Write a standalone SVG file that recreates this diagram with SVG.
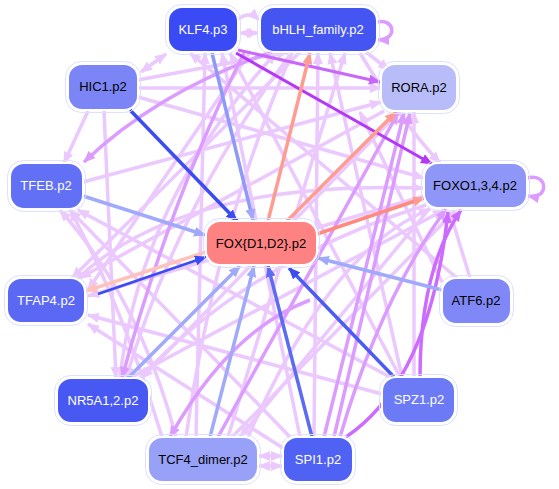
<svg xmlns="http://www.w3.org/2000/svg" width="559" height="489" viewBox="0 0 559 489">
<defs>
<style>
.e{fill:none;stroke-width:3.5}
.lp{stroke:#ebc8fd;marker-end:url(#a-lp)}
.mp{stroke:#dc9cff;marker-end:url(#a-mp)}
.pp{stroke:#cc6cff;marker-end:url(#a-pp)}
.dp{stroke:#b538f5;marker-end:url(#a-dp)}
.db{stroke:#3b4cf2;marker-end:url(#a-db)}
.bb{stroke:#5c6cf2;marker-end:url(#a-bb)}
.lb{stroke:#a0aafa;marker-end:url(#a-lb)}
.sa{stroke:#ff9c92;marker-end:url(#a-sa)}
.ls{stroke:#ffc2ba;marker-end:url(#a-ls)}
.two{marker-start:url(#b-lp)}
.ring{fill:none;stroke:#dde0ff;stroke-width:1}
.nd{stroke:#ffffff;stroke-width:2}
text{font-family:"Liberation Sans",Arial,sans-serif;font-size:13px;text-anchor:middle}
.w{fill:#ffffff}
.k{fill:#000000}
</style>
<marker id="a-lp" markerUnits="userSpaceOnUse" markerWidth="12" markerHeight="10" refX="11" refY="5" orient="auto"><path d="M0,0 L12,5 L0,10 z" fill="#ebc8fd"/></marker>
<marker id="b-lp" markerUnits="userSpaceOnUse" markerWidth="12" markerHeight="10" refX="11" refY="5" orient="auto-start-reverse"><path d="M0,0 L12,5 L0,10 z" fill="#ebc8fd"/></marker>
<marker id="a-mp" markerUnits="userSpaceOnUse" markerWidth="12" markerHeight="10" refX="11" refY="5" orient="auto"><path d="M0,0 L12,5 L0,10 z" fill="#dc9cff"/></marker>
<marker id="a-pp" markerUnits="userSpaceOnUse" markerWidth="12" markerHeight="10" refX="11" refY="5" orient="auto"><path d="M0,0 L12,5 L0,10 z" fill="#cc6cff"/></marker>
<marker id="a-dp" markerUnits="userSpaceOnUse" markerWidth="12" markerHeight="10" refX="11" refY="5" orient="auto"><path d="M0,0 L12,5 L0,10 z" fill="#b538f5"/></marker>
<marker id="a-db" markerUnits="userSpaceOnUse" markerWidth="12" markerHeight="10" refX="11" refY="5" orient="auto"><path d="M0,0 L12,5 L0,10 z" fill="#3b4cf2"/></marker>
<marker id="a-bb" markerUnits="userSpaceOnUse" markerWidth="12" markerHeight="10" refX="11" refY="5" orient="auto"><path d="M0,0 L12,5 L0,10 z" fill="#5c6cf2"/></marker>
<marker id="a-lb" markerUnits="userSpaceOnUse" markerWidth="12" markerHeight="10" refX="11" refY="5" orient="auto"><path d="M0,0 L12,5 L0,10 z" fill="#a0aafa"/></marker>
<marker id="a-sa" markerUnits="userSpaceOnUse" markerWidth="12" markerHeight="10" refX="11" refY="5" orient="auto"><path d="M0,0 L12,5 L0,10 z" fill="#ff9c92"/></marker>
<marker id="a-ls" markerUnits="userSpaceOnUse" markerWidth="12" markerHeight="10" refX="11" refY="5" orient="auto"><path d="M0,0 L12,5 L0,10 z" fill="#ffc2ba"/></marker>
<marker id="a-rp" markerUnits="userSpaceOnUse" markerWidth="12" markerHeight="10" refX="11" refY="5" orient="auto"><path d="M0,0 L12,5 L0,10 z" fill="#c868fa"/></marker>
</defs>
<rect width="559" height="489" fill="#ffffff"/>
<g id="connectors">
<path class="e lp" d="M138,80 L288,52"/>
<path class="e lp" d="M138,88 L381,88"/>
<path class="e lp" d="M138,97 L424,178"/>
<path class="e lp" d="M88,111 L64,163"/>
<path class="e lp" d="M104,111 Q110,250 116,378"/>
<path class="e lp two" d="M141,72 L166,54"/>
<path class="e lp two" d="M240,33 L258,33"/>
<path class="e lp" d="M237,20 Q249,10 259,20"/>
<path class="e lp" d="M366,52 L389,70"/>
<path class="e lp" d="M300,52 L72,278"/>
<path class="e lp" d="M292,52 Q180,200 126,378"/>
<path class="e lp" d="M196,437 L205,53"/>
<path class="e lp" d="M186,437 Q215,230 292,53"/>
<path class="e lp" d="M314,437 L318,53"/>
<path class="e lp" d="M300,437 L222,53"/>
<path class="e lp" d="M402,377 L330,53"/>
<path class="e lp" d="M414,377 L414,112"/>
<path class="e lp" d="M457,278 L190,53"/>
<path class="e lp" d="M76,280 Q180,180 423,188"/>
<path class="e lp" d="M130,378 L444,210"/>
<path class="e lp" d="M232,437 L455,211"/>
<path class="e lp" d="M382,394 L88,315"/>
<path class="e lp" d="M283,448 L88,324"/>
<path class="e lp" d="M290,437 L70,210"/>
<path class="e lp" d="M390,377 L78,210"/>
<path class="e lp" d="M176,437 Q140,300 60,210"/>
<path class="e lp" d="M384,111 L80,278"/>
<path class="e lp" d="M400,111 L142,378"/>
<path class="e lp" d="M430,208 L240,437"/>
<path class="e lp" d="M426,205 Q250,260 140,378"/>
<path class="e lp" d="M83,182 L381,102"/>
<path class="e lp" d="M400,377 L230,53"/>
<path class="e lp" d="M442,282 L360,112"/>
<path class="e lp" d="M470,278 L450,212"/>
<path class="e lp" d="M228,437 L345,53"/>
<path class="e lp" d="M120,378 Q140,200 276,53"/>
<path class="e lp" d="M162,437 Q120,300 70,210"/>
<path class="e lp" d="M248,437 Q330,250 430,209"/>
<path class="e lp two" d="M259,456 L282,456"/>
<path class="e lp two" d="M259,466 L282,466"/>
<path class="e lp" d="M250,52 L88,290"/>
<path class="e lp" d="M424,196 L88,296"/>
<path class="e lp" d="M360,53 Q400,120 440,163"/>
<path class="e mp" d="M324,437 L404,113"/>
<path class="e mp" d="M334,437 L410,113"/>
<path class="e mp" d="M218,437 L398,113"/>
<path class="e mp" d="M310,300 Q230,330 170,437"/>
<path class="e mp" d="M272,52 Q160,90 84,162"/>
<path class="e mp" d="M377,22 C395,18 398,40 378,40"/>
<path class="e mp" d="M527,178 C548,172 550,200 528,196"/>
<path class="e mp" d="M244,53 Q170,200 122,378"/>
<path class="e mp" d="M340,437 Q380,300 446,209"/>
<path class="e pp" d="M420,377 Q420,270 461,210"/>
<path class="e pp" d="M346,437 Q430,380 448,212"/>
<path class="e" style="stroke:#c868fa;stroke-width:3;marker-end:url(#a-rp)" d="M238,50 L380,82"/>
<path class="e dp" style="stroke-width:3" d="M236,53 L432,164"/>
<path class="e db" d="M130,110 L237,221"/>
<path class="e lb" style="stroke:#8e9af8" d="M212,53 L253,220"/>
<path class="e lb" d="M83,196 L205,235"/>
<path class="e ls" d="M206,252 L86,291"/>
<path class="e db" style="stroke-width:2.5" d="M98,294 L206,257"/>
<path class="e lb" d="M128,378 L240,266"/>
<path class="e lb" d="M210,437 L254,266"/>
<path class="e bb" d="M312,437 L268,266"/>
<path class="e db" style="stroke:#4b5cf2" d="M394,377 L289,268"/>
<path class="e lb" d="M442,290 L318,258"/>
<path class="e sa" d="M268,221 L310,53"/>
<path class="e sa" d="M287,221 L396,112"/>
<path class="e sa" style="stroke:#ff8a80" d="M317,234 L424,198"/>
</g>
<g id="KLF4"><rect class="ring" x="165.5" y="4.5" width="75" height="50" rx="16"/><rect class="nd" x="168" y="7" width="70" height="45" rx="14" fill="#3a4af5"/><text class="w" x="203" y="34">KLF4.p3</text></g>
<g id="bHLH"><rect class="ring" x="257.5" y="4.5" width="122" height="50" rx="16"/><rect class="nd" x="260" y="7" width="117" height="45" rx="14" fill="#4455f2"/><text class="w" x="318" y="34">bHLH_family.p2</text></g>
<g id="HIC1"><rect class="ring" x="65.5" y="61.5" width="75" height="51" rx="16"/><rect class="nd" x="68" y="64" width="70" height="46" rx="14" fill="#7b85f6"/><text class="k" x="103" y="91">HIC1.p2</text></g>
<g id="RORA"><rect class="ring" x="378.5" y="61.5" width="81" height="52" rx="16"/><rect class="nd" x="381" y="64" width="76" height="47" rx="14" fill="#b8bdf9"/><text class="k" x="419" y="92">RORA.p2</text></g>
<g id="TFEB"><rect class="ring" x="7.5" y="160.5" width="78" height="51" rx="16"/><rect class="nd" x="10" y="163" width="73" height="46" rx="14" fill="#6270f5"/><text class="w" x="46" y="190">TFEB.p2</text></g>
<g id="FOXO"><rect class="ring" x="421.5" y="160.5" width="108" height="50" rx="16"/><rect class="nd" x="424" y="163" width="103" height="45" rx="14" fill="#8e97f7"/><text class="k" x="475" y="190">FOXO1,3,4.p2</text></g>
<g id="FOXD"><rect class="ring" x="203.5" y="218.5" width="116" height="49" rx="16"/><rect class="nd" x="206" y="221" width="111" height="44" rx="14" fill="#ff8282"/><text class="k" x="261" y="248">FOX{D1,D2}.p2</text></g>
<g id="TFAP4"><rect class="ring" x="4.5" y="275.5" width="83" height="50" rx="16"/><rect class="nd" x="7" y="278" width="78" height="45" rx="14" fill="#5a68f3"/><text class="w" x="46" y="305">TFAP4.p2</text></g>
<g id="ATF6"><rect class="ring" x="439.5" y="275.5" width="74" height="51" rx="16"/><rect class="nd" x="442" y="278" width="69" height="46" rx="14" fill="#7f88f6"/><text class="k" x="476" y="305">ATF6.p2</text></g>
<g id="NR5A1"><rect class="ring" x="54.5" y="375.5" width="97" height="50" rx="16"/><rect class="nd" x="57" y="378" width="92" height="45" rx="14" fill="#4858f2"/><text class="w" x="103" y="405">NR5A1,2.p2</text></g>
<g id="SPZ1"><rect class="ring" x="379.5" y="374.5" width="78" height="51" rx="16"/><rect class="nd" x="382" y="377" width="73" height="46" rx="14" fill="#6c7af5"/><text class="w" x="419" y="404">SPZ1.p2</text></g>
<g id="TCF4"><rect class="ring" x="145.5" y="434.5" width="115" height="50" rx="16"/><rect class="nd" x="148" y="437" width="110" height="45" rx="14" fill="#98a1f8"/><text class="k" x="203" y="464">TCF4_dimer.p2</text></g>
<g id="SPI1"><rect class="ring" x="280.5" y="434.5" width="75" height="50" rx="16"/><rect class="nd" x="283" y="437" width="70" height="45" rx="14" fill="#5062f3"/><text class="w" x="318" y="464">SPI1.p2</text></g>
</svg>
